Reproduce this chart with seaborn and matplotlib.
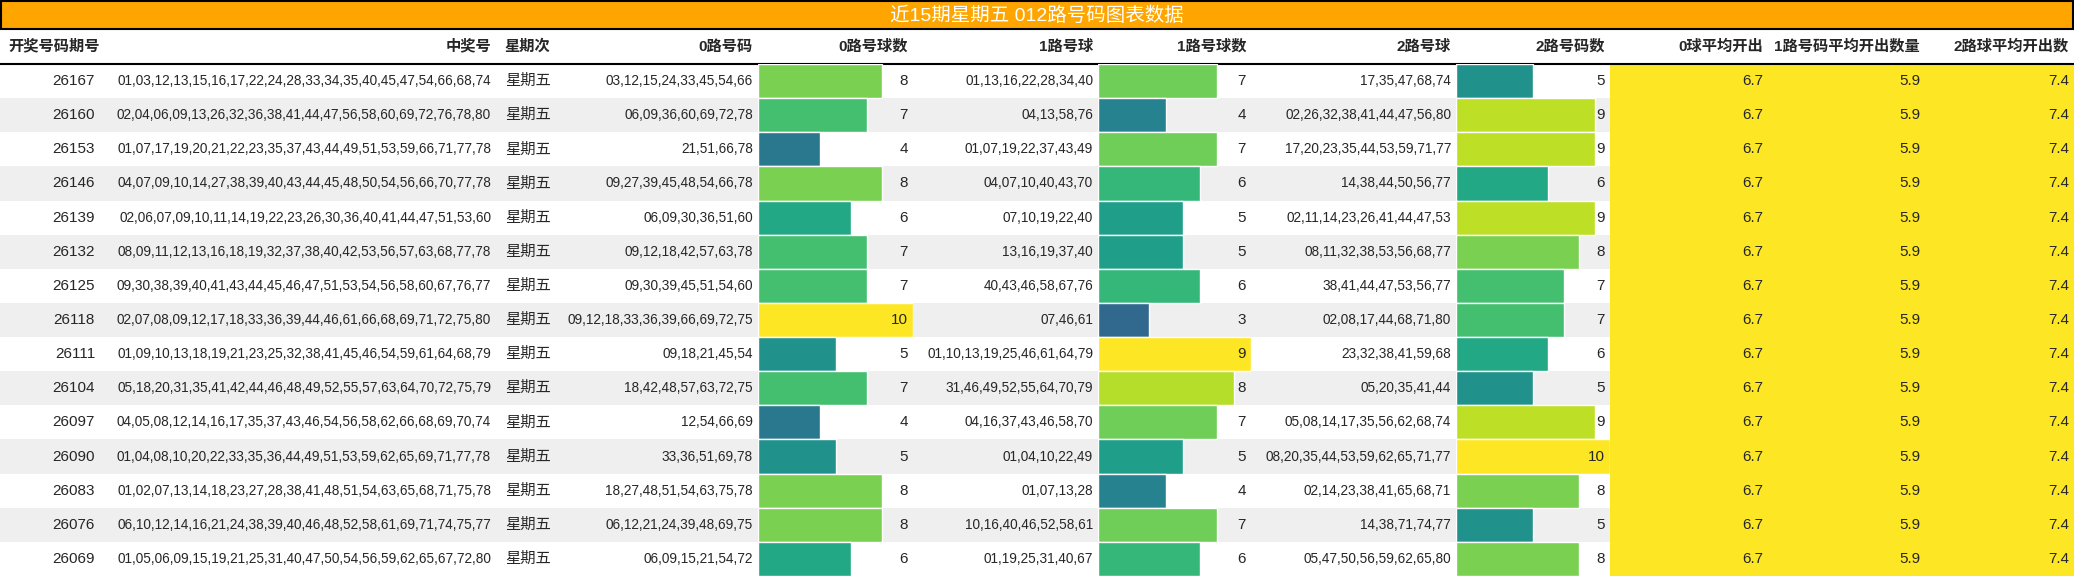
import seaborn as sns
import pandas as pd
import matplotlib.pyplot as plt
from matplotlib import cm

issues = ["26167", "26160", "26153", "26146", "26139", "26132", "26125", "26118",
          "26111", "26104", "26097", "26090", "26083", "26076", "26069"]
winning = [
    "01,03,12,13,15,16,17,22,24,28,33,34,35,40,45,47,54,66,68,74",
    "02,04,06,09,13,26,32,36,38,41,44,47,56,58,60,69,72,76,78,80",
    "01,07,17,19,20,21,22,23,35,37,43,44,49,51,53,59,66,71,77,78",
    "04,07,09,10,14,27,38,39,40,43,44,45,48,50,54,56,66,70,77,78",
    "02,06,07,09,10,11,14,19,22,23,26,30,36,40,41,44,47,51,53,60",
    "08,09,11,12,13,16,18,19,32,37,38,40,42,53,56,57,63,68,77,78",
    "09,30,38,39,40,41,43,44,45,46,47,51,53,54,56,58,60,67,76,77",
    "02,07,08,09,12,17,18,33,36,39,44,46,61,66,68,69,71,72,75,80",
    "01,09,10,13,18,19,21,23,25,32,38,41,45,46,54,59,61,64,68,79",
    "05,18,20,31,35,41,42,44,46,48,49,52,55,57,63,64,70,72,75,79",
    "04,05,08,12,14,16,17,35,37,43,46,54,56,58,62,66,68,69,70,74",
    "01,04,08,10,20,22,33,35,36,44,49,51,53,59,62,65,69,71,77,78",
    "01,02,07,13,14,18,23,27,28,38,41,48,51,54,63,65,68,71,75,78",
    "06,10,12,14,16,21,24,38,39,40,46,48,52,58,61,69,71,74,75,77",
    "01,05,06,09,15,19,21,25,31,40,47,50,54,56,59,62,65,67,72,80",
]
weekday = ["星期五"] * 15
zero_nums = [
    "03,12,15,24,33,45,54,66", "06,09,36,60,69,72,78", "21,51,66,78",
    "09,27,39,45,48,54,66,78", "06,09,30,36,51,60", "09,12,18,42,57,63,78",
    "09,30,39,45,51,54,60", "09,12,18,33,36,39,66,69,72,75", "09,18,21,45,54",
    "18,42,48,57,63,72,75", "12,54,66,69", "33,36,51,69,78",
    "18,27,48,51,54,63,75,78", "06,12,21,24,39,48,69,75", "06,09,15,21,54,72",
]
zero_cnt = [8, 7, 4, 8, 6, 7, 7, 10, 5, 7, 4, 5, 8, 8, 6]
one_nums = [
    "01,13,16,22,28,34,40", "04,13,58,76", "01,07,19,22,37,43,49",
    "04,07,10,40,43,70", "07,10,19,22,40", "13,16,19,37,40",
    "40,43,46,58,67,76", "07,46,61", "01,10,13,19,25,46,61,64,79",
    "31,46,49,52,55,64,70,79", "04,16,37,43,46,58,70", "01,04,10,22,49",
    "01,07,13,28", "10,16,40,46,52,58,61", "01,19,25,31,40,67",
]
one_cnt = [7, 4, 7, 6, 5, 5, 6, 3, 9, 8, 7, 5, 4, 7, 6]
two_nums = [
    "17,35,47,68,74", "02,26,32,38,41,44,47,56,80", "17,20,23,35,44,53,59,71,77",
    "14,38,44,50,56,77", "02,11,14,23,26,41,44,47,53", "08,11,32,38,53,56,68,77",
    "38,41,44,47,53,56,77", "02,08,17,44,68,71,80", "23,32,38,41,59,68",
    "05,20,35,41,44", "05,08,14,17,35,56,62,68,74", "08,20,35,44,53,59,62,65,71,77",
    "02,14,23,38,41,65,68,71", "14,38,71,74,77", "05,47,50,56,59,62,65,80",
]
two_cnt = [5, 9, 9, 6, 9, 8, 7, 7, 6, 5, 9, 10, 8, 5, 8]
avg_zero = ["6.7"] * 15
avg_one = ["5.9"] * 15
avg_two = ["7.4"] * 15

headers = ["开奖号码期号", "中奖号", "星期次", "0路号码", "0路号球数", "1路号球",
           "1路号球数", "2路号球", "2路号码数", "0球平均开出", "1路号码平均开出数量", "2路球平均开出数"]
title = "近15期星期五 012路号码图表数据"

W, H = 2074, 576
edges = [0, 100, 496, 562, 758, 913, 1098, 1251, 1456, 1610, 1768, 1925, 2074]
title_h, head_h = 29, 64
row_h = (H - head_h) / 15

sns.set_theme(style="white")
plt.rcParams['font.family'] = ['Liberation Sans', 'Noto Sans CJK SC', 'DejaVu Sans']

fig = plt.figure(figsize=(W / 100, H / 100), dpi=100)
bg = fig.add_axes([0, 0, 1, 1], zorder=0)
bg.set_xlim(0, W)
bg.set_ylim(H, 0)
bg.axis("off")

# row stripes and yellow average cells
for i in range(15):
    y0 = head_h + i * row_h
    if i % 2 == 1:
        bg.add_patch(plt.Rectangle((0, y0), W, row_h, color="#efefef", lw=0))
bg.add_patch(plt.Rectangle((edges[9], head_h), W - edges[9], H - head_h,
                           color=cm.viridis(1.0), lw=0))
bg.add_patch(plt.Rectangle((1, 1), W - 2, title_h - 1, facecolor="#ffa500",
                           edgecolor="black", lw=1.5))
bg.plot([0, W], [head_h, head_h], color="black", lw=1.5)

# bar columns drawn with seaborn
for col, cnt in [(4, zero_cnt), (6, one_cnt), (8, two_cnt)]:
    x0, x1 = edges[col], edges[col + 1]
    bax = fig.add_axes([x0 / W, 0, (x1 - x0) / W, (H - head_h) / H], zorder=1)
    df = pd.DataFrame({"row": [str(i) for i in range(15)], "v": cnt})
    vmax = max(cnt)
    pal = [cm.viridis(v / vmax) for v in cnt]
    sns.barplot(data=df, x="v", y="row", hue="row", palette=pal, orient="h",
                width=1.0, legend=False, ax=bax, saturation=1)
    bax.set_xlim(0, vmax)
    bax.set_ylim(14.5, -0.5)
    bax.patch.set_alpha(0)
    bax.axis("off")

tx = fig.add_axes([0, 0, 1, 1], zorder=2)
tx.set_xlim(0, W)
tx.set_ylim(H, 0)
tx.axis("off")
tx.patch.set_alpha(0)

tx.text(W / 2, title_h / 2 + 1, title, color="white", fontsize=14,
        ha="center", va="center")

left_cols = {0, 2}
for c, h in enumerate(headers):
    if c in left_cols:
        tx.text(edges[c] + 8, (title_h + head_h) / 2, h, ha="left", va="center",
                fontsize=11, fontweight="bold")
    else:
        tx.text(edges[c + 1] - 5, (title_h + head_h) / 2, h, ha="right", va="center",
                fontsize=11, fontweight="bold")

columns = [issues, winning, weekday, zero_nums, zero_cnt, one_nums, one_cnt,
           two_nums, two_cnt, avg_zero, avg_one, avg_two]
for c, vals in enumerate(columns):
    for i, v in enumerate(vals):
        y = head_h + (i + 0.5) * row_h
        if c == 2:
            tx.text(edges[c] + 9, y, str(v), ha="left", va="center", fontsize=11)
        else:
            fs = 9.8 if c in (1, 3, 5, 7) else 11
            tx.text(edges[c + 1] - 5, y, str(v), ha="right", va="center", fontsize=fs)

plt.savefig("out.png", dpi=100)
